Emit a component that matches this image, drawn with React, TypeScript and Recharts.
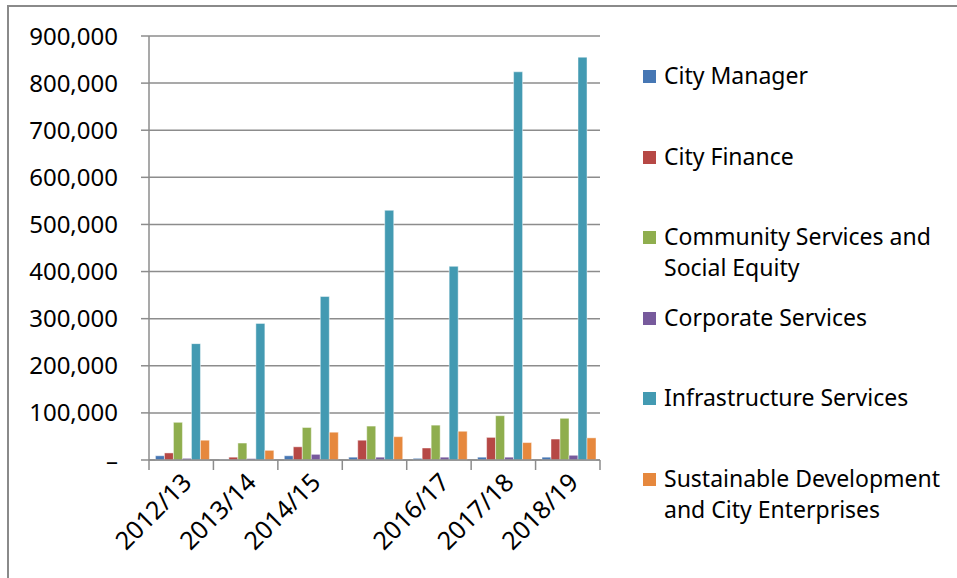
import { BarChart, Bar, XAxis, YAxis, CartesianGrid } from "recharts";

const years = ["2012/13", "2013/14", "2014/15", "2015/16", "2016/17", "2017/18", "2018/19"];
// the 2015/16 label is not shown on the original axis
const tickLabels = ["2012/13", "2013/14", "2014/15", "", "2016/17", "2017/18", "2018/19"];

const cityManager = [9000, 1000, 9000, 6000, 3500, 6000, 6000];
const cityFinance = [15000, 6000, 28000, 42000, 25500, 48000, 44500];
const communityServices = [80000, 36000, 69000, 72000, 74000, 94000, 88500];
const corporateServices = [3500, 3000, 12000, 6000, 6000, 6000, 10000];
const infrastructureServices = [247000, 290000, 347000, 530000, 411000, 824000, 855000];
const sustainableDevelopment = [42000, 20500, 59000, 49500, 61000, 37000, 47000];

const yTicks = [0, 100000, 200000, 300000, 400000, 500000, 600000, 700000, 800000, 900000];

const series = [
  { key: "cityManager", name: "City Manager", color: "#4677B4", values: cityManager },
  { key: "cityFinance", name: "City Finance", color: "#B64845", values: cityFinance },
  { key: "community", name: "Community Services and Social Equity", color: "#8FAE4E", values: communityServices },
  { key: "corporate", name: "Corporate Services", color: "#775A9C", values: corporateServices },
  { key: "infra", name: "Infrastructure Services", color: "#439AB2", values: infrastructureServices },
  { key: "sustainable", name: "Sustainable Development and City Enterprises", color: "#E6883D", values: sustainableDevelopment },
];

const data = years.map((year, i) => {
  const row: Record<string, string | number> = { year };
  series.forEach((s) => {
    row[s.key] = s.values[i];
  });
  return row;
});

const FONT = "'Noto Sans', sans-serif";
const AXIS = "#8c8c8c";

// label plus the tick marks that sit between the year groups
function YearTick(props: any) {
  const { x, y, index, payload } = props;
  const half = payload && payload.offset ? payload.offset : 0;
  const label = tickLabels[index];
  const ax = x + 12;
  const ay = y + 24;
  return (
    <g>
      <line x1={x - half} x2={x - half} y1={y} y2={y + 10} stroke={AXIS} strokeWidth={1.5} />
      {index === years.length - 1 && (
        <line x1={x + half} x2={x + half} y1={y} y2={y + 10} stroke={AXIS} strokeWidth={1.5} />
      )}
      {label && (
        <text
          x={ax}
          y={ay}
          transform={`rotate(-45, ${ax}, ${ay})`}
          textAnchor="end"
          fontSize={25}
          fontFamily={FONT}
          fill="#000"
        >
          {label}
        </text>
      )}
    </g>
  );
}

const formatY = (v: number) => (v === 0 ? "–" : v.toLocaleString("en-US"));

export default function App() {
  return (
    <div style={{ position: "absolute", left: 0, top: 0, width: 957, height: 578, background: "#fff", overflow: "hidden" }}>
      <div
        style={{
          position: "absolute",
          left: 7,
          top: 5,
          width: 960,
          height: 580,
          borderTop: "2px solid #8a8a8a",
          borderLeft: "2px solid #8a8a8a",
        }}
      />
      <div style={{ position: "absolute", left: 0, top: 0 }}>
        <BarChart
          width={620}
          height={578}
          data={data}
          margin={{ top: 36, right: 20, left: 0, bottom: 0 }}
          barCategoryGap="10%"
          barGap={0}
        >
          <CartesianGrid vertical={false} stroke={AXIS} strokeWidth={1.5} />
          <XAxis
            dataKey="year"
            height={118}
            interval={0}
            axisLine={{ stroke: AXIS, strokeWidth: 1.5 }}
            tickLine={false}
            tickSize={0}
            tickMargin={0}
            tick={<YearTick />}
          />
          <YAxis
            width={149}
            domain={[0, 900000]}
            ticks={yTicks}
            interval={0}
            tickFormatter={formatY}
            tickSize={8}
            tickMargin={23}
            axisLine={{ stroke: AXIS, strokeWidth: 1.5 }}
            tickLine={{ stroke: AXIS, strokeWidth: 1.5 }}
            tick={{ fontSize: 24, fontFamily: FONT, fill: "#000" }}
          />
          {series.map((s) => (
            <Bar
              key={s.key}
              dataKey={s.key}
              name={s.name}
              fill={s.color}
              stroke="rgba(255,255,255,0.45)"
              strokeWidth={1}
              isAnimationActive={false}
            />
          ))}
        </BarChart>
      </div>
      <div style={{ position: "absolute", left: 643, top: 60, width: 314, fontFamily: FONT, fontSize: 23, color: "#000" }}>
        {series.map((s) => (
          <div key={s.key} style={{ position: "relative", height: 80.6, paddingLeft: 21, lineHeight: "31px" }}>
            <span
              style={{
                position: "absolute",
                left: 0,
                top: 10,
                width: 13,
                height: 13,
                background: s.color,
              }}
            />
            {s.name}
          </div>
        ))}
      </div>
    </div>
  );
}
